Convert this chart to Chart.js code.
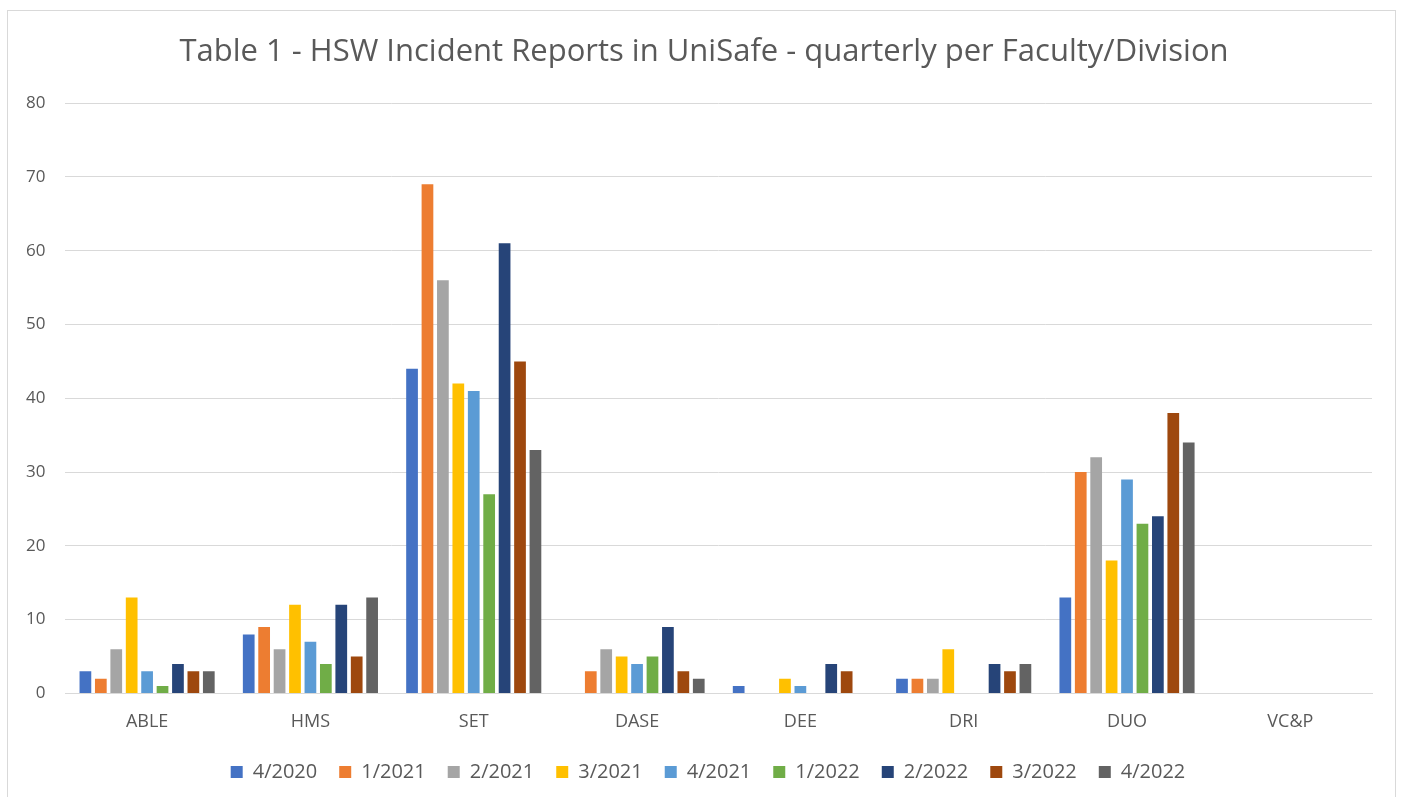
<!DOCTYPE html>
<html>
<head>
<meta charset="utf-8">
<script src="https://cdn.jsdelivr.net/npm/chart.js@4.4.0/dist/chart.umd.min.js"></script>
<style>
html,body{margin:0;padding:0;background:#fff;width:1404px;height:797px;overflow:hidden;}
#frame{position:absolute;left:7px;top:10px;width:1389px;height:800px;border:1px solid #d9d9d9;box-sizing:border-box;}
#wrap{position:absolute;left:0;top:0;width:1404px;height:797px;}
</style>
</head>
<body>
<div id="frame"></div>
<div id="wrap"><canvas id="c" width="1404" height="797"></canvas></div>
<script>
const categories = ["ABLE","HMS","SET","DASE","DEE","DRI","DUO","VC&P"];
const seriesNames = ["4/2020","1/2021","2/2021","3/2021","4/2021","1/2022","2/2022","3/2022","4/2022"];
const q4_2020 = [3, 8, 44, 0, 1, 2, 13, 0];
const q1_2021 = [2, 9, 69, 3, 0, 2, 30, 0];
const q2_2021 = [6, 6, 56, 6, 0, 2, 32, 0];
const q3_2021 = [13, 12, 42, 5, 2, 6, 18, 0];
const q4_2021 = [3, 7, 41, 4, 1, 0, 29, 0];
const q1_2022 = [1, 4, 27, 5, 0, 0, 23, 0];
const q2_2022 = [4, 12, 61, 9, 4, 4, 24, 0];
const q3_2022 = [3, 5, 45, 3, 3, 3, 38, 0];
const q4_2022 = [3, 13, 33, 2, 0, 4, 34, 0];
const yTicks = [0,10,20,30,40,50,60,70,80];
const colors = ["#4472C4","#ED7D31","#A5A5A5","#FFC000","#5B9BD5","#70AD47","#264478","#9E480E","#636363"];
const allData = [q4_2020,q1_2021,q2_2021,q3_2021,q4_2021,q1_2022,q2_2022,q3_2022,q4_2022];

const datasets = seriesNames.map((n,i)=>({
  label:n, data:allData[i], backgroundColor:colors[i],
  borderWidth:0,
  categoryPercentage:0.85, barPercentage:0.76
}));

const shiftPlugin = {
  id:'shiftBoxes',
  afterLayout(chart){
    const lg = chart.legend;
    if (lg){ lg.top-=5; lg.bottom-=5; lg.left+=19; lg.right+=19; }
    const t = chart.titleBlock;
    if (t){ t.left+=15; t.right+=15; t.top+=1; t.bottom+=1; }
  }
};

new Chart(document.getElementById('c'),{
  type:'bar',
  data:{labels:categories, datasets},
  plugins:[shiftPlugin],
  options:{
    responsive:false, animation:false,
    layout:{padding:{left:6,right:32,top:0,bottom:0}},
    plugins:{
      title:{display:true,text:"Table 1 - HSW Incident Reports in UniSafe - quarterly per Faculty/Division",
        color:"#595959",font:{family:"'Open Sans', sans-serif",size:31,weight:'normal'},padding:{top:33,bottom:33}},
      legend:{position:'bottom',labels:{boxWidth:12,boxHeight:12,color:"#595959",font:{family:"'Open Sans', sans-serif",size:20},padding:22},
      },
      tooltip:{enabled:false}
    },
    scales:{
      x:{grid:{display:false,drawTicks:false},border:{display:true,color:"#d9d9d9",width:1},
         ticks:{color:"#595959",font:{family:"'Open Sans', sans-serif",size:18},padding:18},
         afterFit:(s)=>{s.height-=6;}},
      y:{min:0,max:80,afterBuildTicks:(ax)=>{ax.ticks=yTicks.map(v=>({value:v}));},
         grid:{color:"#d9d9d9",drawTicks:false},border:{display:false},
         ticks:{color:"#595959",font:{family:"'Open Sans', sans-serif",size:17},padding:20}}
    }
  }
});
</script>
</body>
</html>
